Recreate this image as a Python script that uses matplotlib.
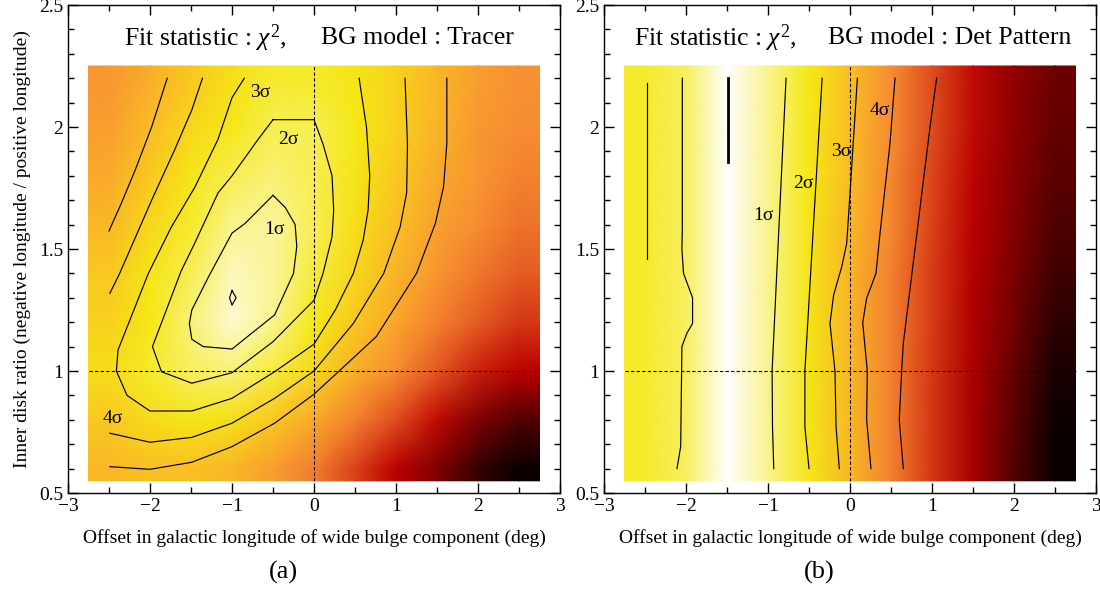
import numpy as np
import matplotlib
matplotlib.use("Agg")
import matplotlib.pyplot as plt
from matplotlib.colors import LinearSegmentedColormap
from matplotlib.ticker import MultipleLocator, FuncFormatter

plt.rcParams['font.family'] = ['Liberation Serif', 'DejaVu Serif']
plt.rcParams['mathtext.fontset'] = 'custom'
plt.rcParams['mathtext.rm'] = 'Liberation Serif'
plt.rcParams['mathtext.it'] = 'Liberation Serif:italic'

# ---------------- data ----------------
grid_x = [-2.5, -2.0, -1.5, -1.0, -0.5, 0.0, 0.5, 1.0, 1.5, 2.0, 2.5]
grid_y = [0.6, 0.8, 1.0, 1.2, 1.4, 1.6, 1.8, 2.0, 2.2]

# normalised fit-statistic colour level (1 = best fit / white, 0 = worst / black)
tracer_level = [
    [0.76, 0.78, 0.78, 0.76, 0.70, 0.63, 0.52, 0.40, 0.28, 0.12, 0.02],
    [0.80, 0.84, 0.86, 0.85, 0.80, 0.73, 0.64, 0.54, 0.42, 0.28, 0.18],
    [0.84, 0.88, 0.91, 0.92, 0.89, 0.83, 0.74, 0.66, 0.56, 0.46, 0.40],
    [0.82, 0.87, 0.92, 0.97, 0.93, 0.87, 0.80, 0.72, 0.64, 0.57, 0.50],
    [0.80, 0.86, 0.90, 0.96, 0.94, 0.89, 0.83, 0.75, 0.68, 0.62, 0.57],
    [0.76, 0.83, 0.88, 0.93, 0.94, 0.90, 0.85, 0.78, 0.71, 0.66, 0.61],
    [0.73, 0.80, 0.86, 0.90, 0.92, 0.90, 0.86, 0.80, 0.73, 0.68, 0.64],
    [0.70, 0.77, 0.83, 0.87, 0.90, 0.90, 0.87, 0.82, 0.75, 0.69, 0.66],
    [0.68, 0.74, 0.80, 0.85, 0.88, 0.88, 0.86, 0.82, 0.76, 0.70, 0.67],
]
detpat_level = [
    [0.88, 0.91, 1.00, 0.93, 0.86, 0.76, 0.64, 0.50, 0.36, 0.18, 0.02],
    [0.88, 0.91, 1.00, 0.93, 0.86, 0.76, 0.64, 0.50, 0.36, 0.20, 0.03],
    [0.88, 0.91, 1.00, 0.93, 0.86, 0.76, 0.64, 0.50, 0.37, 0.22, 0.06],
    [0.88, 0.91, 1.00, 0.93, 0.86, 0.75, 0.64, 0.51, 0.38, 0.25, 0.10],
    [0.88, 0.91, 1.00, 0.93, 0.86, 0.75, 0.64, 0.51, 0.39, 0.27, 0.14],
    [0.88, 0.91, 1.00, 0.93, 0.86, 0.76, 0.65, 0.52, 0.40, 0.29, 0.17],
    [0.88, 0.91, 1.00, 0.93, 0.87, 0.77, 0.65, 0.53, 0.41, 0.30, 0.20],
    [0.88, 0.91, 1.00, 0.93, 0.87, 0.77, 0.66, 0.54, 0.42, 0.31, 0.22],
    [0.88, 0.91, 1.00, 0.93, 0.87, 0.78, 0.66, 0.54, 0.42, 0.32, 0.24],
]

# contour lines, panel (a): BG model Tracer
tr_1s_x = [-0.50, -0.35, -0.23, -0.21, -0.25, -0.48, -1.00, -1.35, -1.49, -1.52, -1.49, -1.28, -1.04, -1.00, -0.84, -0.50]
tr_1s_y = [1.72, 1.67, 1.60, 1.51, 1.40, 1.23, 1.09, 1.10, 1.13, 1.195, 1.25, 1.39, 1.54, 1.565, 1.605, 1.72]
tr_min_x = [-1.00, -0.95, -1.00, -1.03, -1.00]
tr_min_y = [1.33, 1.30, 1.27, 1.30, 1.33]
tr_2s_x = [-0.50, 0.00, 0.11, 0.22, 0.24, 0.22, 0.11, 0.00, -0.50, -1.00, -1.49, -1.86, -1.97, -1.62, -1.46, -1.17, -1.00, -0.68, -0.50]
tr_2s_y = [2.03, 2.03, 1.93, 1.80, 1.66, 1.55, 1.40, 1.29, 1.12, 0.993, 0.95, 0.997, 1.10, 1.41, 1.52, 1.73, 1.80, 1.95, 2.03]
tr_3s_x = [-0.85, -1.00, -1.17, -1.45, -1.74, -2.02, -2.39, -2.41, -2.28, -2.00, -1.49, -1.00, -0.48, 0.00, 0.26, 0.48, 0.60, 0.66, 0.68, 0.64, 0.55]
tr_3s_y = [2.20, 2.12, 1.95, 1.755, 1.59, 1.40, 1.086, 1.00, 0.90, 0.836, 0.836, 0.888, 0.997, 1.11, 1.25, 1.40, 1.537, 1.66, 1.80, 2.00, 2.20]
tr_4s_x = [-2.49, -2.00, -1.49, -1.00, -0.48, 0.00, 0.48, 0.85, 1.05, 1.13, 1.14, 1.11]
tr_4s_y = [0.745, 0.708, 0.728, 0.786, 0.888, 1.00, 1.195, 1.40, 1.59, 1.73, 1.93, 2.20]
tr_4s_b_x = [-2.49, -2.37, -1.98, -1.70, -1.49, -1.36]
tr_4s_b_y = [1.318, 1.40, 1.70, 1.906, 2.07, 2.20]
tr_5s_x = [-2.49, -2.00, -1.49, -1.00, -0.48, 0.00, 0.32, 0.76, 1.25, 1.48, 1.58, 1.62, 1.62]
tr_5s_y = [0.608, 0.597, 0.626, 0.69, 0.786, 0.905, 1.004, 1.141, 1.40, 1.605, 1.755, 1.933, 2.20]
tr_5s_b_x = [-2.50, -2.35, -2.18, -1.98, -1.79]
tr_5s_b_y = [1.574, 1.687, 1.824, 2.00, 2.20]

# contour lines, panel (b): BG model Det Pattern
dp_2s_l_x = [-2.48, -2.48]
dp_2s_l_y = [2.18, 1.46]
dp_min_x = [-1.49, -1.49]
dp_min_y = [2.20, 1.855]
dp_1s_l_x = [-2.045, -2.045, -2.05, -2.03, -1.92, -1.92, -1.99, -2.05, -2.065, -2.11]
dp_1s_l_y = [2.20, 1.58, 1.50, 1.40, 1.30, 1.195, 1.154, 1.10, 0.69, 0.60]
dp_1s_x = [-0.78, -0.95, -0.945, -0.93]
dp_1s_y = [2.20, 1.00, 0.77, 0.60]
dp_2s_x = [-0.34, -0.55, -0.55, -0.50]
dp_2s_y = [2.20, 1.00, 0.77, 0.60]
dp_3s_x = [0.09, 0.00, -0.04, -0.10, -0.20, -0.244, -0.183, -0.17, -0.13]
dp_3s_y = [2.20, 1.728, 1.523, 1.428, 1.311, 1.195, 1.00, 0.772, 0.60]
dp_4s_x = [0.549, 0.488, 0.366, 0.317, 0.203, 0.155, 0.211, 0.203, 0.256]
dp_4s_y = [2.20, 1.933, 1.564, 1.40, 1.298, 1.198, 1.00, 0.80, 0.60]
dp_5s_x = [1.057, 0.976, 0.65, 0.63, 0.601, 0.65]
dp_5s_y = [2.20, 2.00, 1.113, 1.00, 0.80, 0.60]

sigma_labels = ["1σ", "2σ", "3σ", "4σ"]
tr_label_x = [-0.48, -0.31, -0.66, -2.46]
tr_label_y = [1.578, 1.95, 2.14, 0.806]
dp_label_x = [-1.06, -0.57, -0.11, 0.36]
dp_label_y = [1.638, 1.77, 1.898, 2.067]

bg_models = ["Tracer", "Det Pattern"]
panel_tags = ["(a)", "(b)"]
xlabel = "Offset in galactic longitude of wide bulge component (deg)"
ylabel = "Inner disk ratio (negative longitude / positive longitude)"

# ---------------- style ----------------
cmap = LinearSegmentedColormap.from_list("hot_root", [
    (0.00, (0.00, 0.00, 0.00)),
    (0.25, (0.44, 0.00, 0.00)),
    (0.40, (0.73, 0.00, 0.00)),
    (0.55, (0.88, 0.32, 0.12)),
    (0.66, (0.97, 0.55, 0.20)),
    (0.78, (0.98, 0.75, 0.14)),
    (0.87, (0.96, 0.91, 0.08)),
    (0.94, (0.98, 0.96, 0.60)),
    (1.00, (1.00, 1.00, 1.00)),
])

fig = plt.figure(figsize=(11, 5.93), dpi=100)
ax_a = fig.add_axes([68/1100, 1-493/593, 492/1100, 488/593])
ax_b = fig.add_axes([604/1100, 1-493/593, 492/1100, 488/593])

gx = np.array(grid_x)
gy = np.array(grid_y)
# nodes padded by half a cell so the map covers the full cell area
nx = np.concatenate([[gx[0] - 0.25], gx, [gx[-1] + 0.25]])
ny = np.concatenate([[gy[0] - 0.05], gy, [gy[-1] + 0.05]])

line_kw = dict(color='black', lw=0.85)
lab_kw = dict(fontsize=14, ha='center', va='center')


def tick_fmt(v, p):
    return ('\u2212%d' % abs(v)) if v < 0 else '%d' % v


def draw_panel(ax, level, lines, thick, labels_x, labels_y, tag, show_ylabel):
    z = np.pad(np.array(level), 1, mode='edge')
    ax.pcolormesh(nx, ny, z, cmap=cmap, vmin=0, vmax=1, shading='gouraud', rasterized=True)
    for (lx, ly) in lines:
        ax.plot(lx, ly, **line_kw)
    for (lx, ly) in thick:
        ax.plot(lx, ly, color='black', lw=2.0)
    for s, x, y in zip(sigma_labels, labels_x, labels_y):
        ax.text(x, y, s, **lab_kw)
    ax.vlines(0.0, ny[0], ny[-1], colors='black', linestyles=(0, (3, 2)), lw=0.8)
    ax.hlines(1.0, nx[0], nx[-1], colors='black', linestyles=(0, (3, 2)), lw=0.8)
    ax.set_xlim(-3, 3)
    ax.set_ylim(0.5, 2.5)
    ax.xaxis.set_major_locator(MultipleLocator(1))
    ax.xaxis.set_minor_locator(MultipleLocator(0.5))
    ax.yaxis.set_major_locator(MultipleLocator(0.5))
    ax.yaxis.set_minor_locator(MultipleLocator(0.1))
    ax.tick_params(which='both', direction='in', top=True, right=True, labelsize=14)
    ax.tick_params(which='major', length=7, width=1.0)
    ax.tick_params(which='minor', length=4, width=1.0)
    ax.xaxis.set_major_formatter(FuncFormatter(tick_fmt))
    ax.yaxis.set_major_formatter(FuncFormatter(lambda v, p: '%g' % v))
    for sp in ax.spines.values():
        sp.set_linewidth(1.0)
    ax.set_xlabel(xlabel, fontsize=14, labelpad=10)
    if show_ylabel:
        ax.set_ylabel(ylabel, fontsize=14, labelpad=6)
    ax.text(0.437, -0.163, tag, transform=ax.transAxes, fontsize=19, ha='center', va='center')


draw_panel(ax_a, tracer_level,
           [(tr_1s_x, tr_1s_y), (tr_min_x, tr_min_y), (tr_2s_x, tr_2s_y), (tr_3s_x, tr_3s_y),
            (tr_4s_x, tr_4s_y), (tr_4s_b_x, tr_4s_b_y), (tr_5s_x, tr_5s_y), (tr_5s_b_x, tr_5s_b_y)],
           [], tr_label_x, tr_label_y, panel_tags[0], True)
draw_panel(ax_b, detpat_level,
           [(dp_2s_l_x, dp_2s_l_y), (dp_1s_l_x, dp_1s_l_y), (dp_1s_x, dp_1s_y), (dp_2s_x, dp_2s_y),
            (dp_3s_x, dp_3s_y), (dp_4s_x, dp_4s_y), (dp_5s_x, dp_5s_y)],
           [(dp_min_x, dp_min_y)], dp_label_x, dp_label_y, panel_tags[1], False)

title_fs = 18.5
ax_a.text(-2.32, 2.365, r"Fit statistic : $\chi^2$,", fontsize=title_fs, ha='left', va='center')
ax_a.text(0.08, 2.365, "BG model : " + bg_models[0], fontsize=title_fs, ha='left', va='center')
ax_b.text(-2.63, 2.365, r"Fit statistic : $\chi^2$,", fontsize=title_fs, ha='left', va='center')
ax_b.text(-0.27, 2.365, "BG model : " + bg_models[1], fontsize=title_fs, ha='left', va='center')

fig.savefig("out.png", dpi=100)
